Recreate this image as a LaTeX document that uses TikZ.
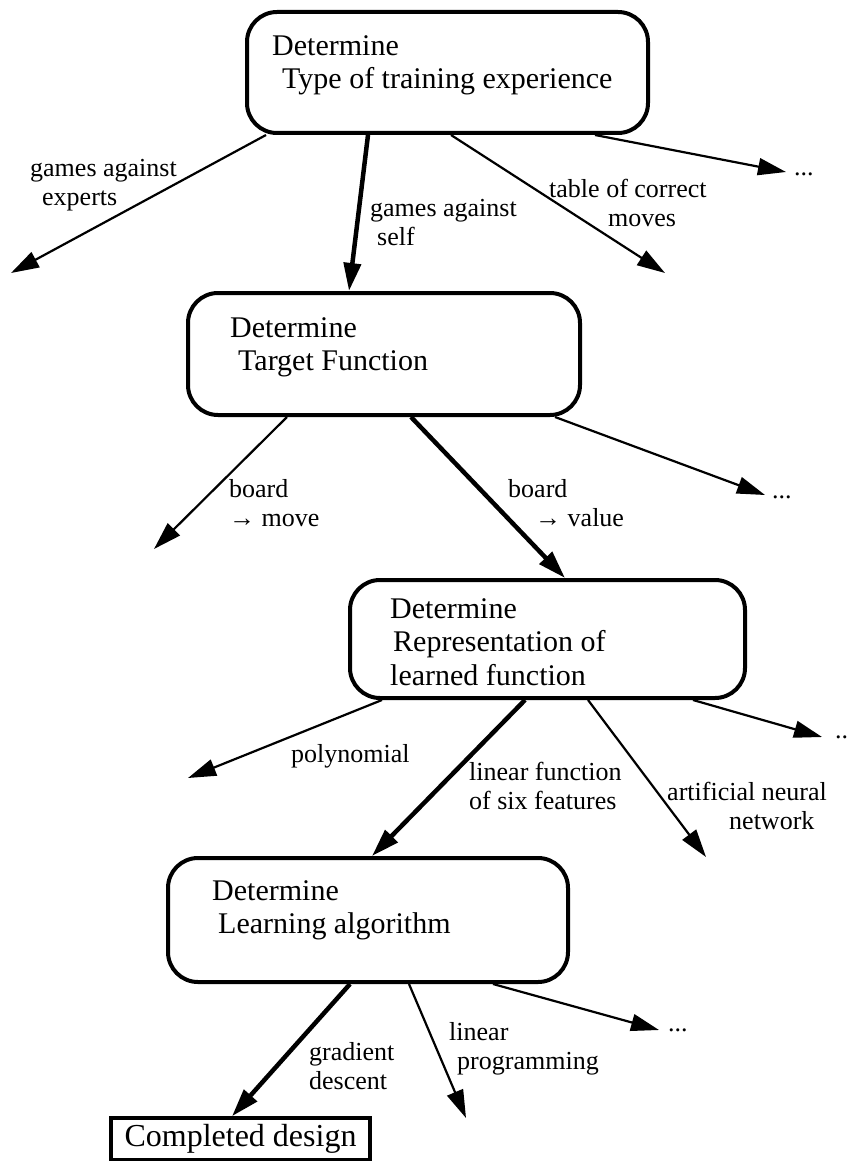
\documentclass[tikz,border=0pt]{standalone}
\usepackage{fontspec}
\setmainfont{Liberation Serif}
\usetikzlibrary{arrows.meta}

\begin{document}
\begin{tikzpicture}[x=1pt, y=-1pt]
    \tikzstyle{decision} = [rectangle, rounded corners=30pt, draw, line width=4pt]
    \tikzstyle{heading} = [anchor=north west, inner sep=0pt, align=left, font=\fontsize{30}{33.5}\selectfont]
    \tikzstyle{choice} = [anchor=north west, inner sep=0pt, align=left, font=\fontsize{26}{29}\selectfont]
    \tikzstyle{ellipsis} = [anchor=west, inner sep=0pt, font=\fontsize{26}{29}\selectfont]
    \tikzstyle{option} = [-{Triangle[length=28pt, width=17pt]}, line width=2.2pt]
    \tikzstyle{chosen} = [option, line width=4.5pt]

    \useasboundingbox (0,0) rectangle (848,1161);

    % Decision boxes
    \node [decision, minimum width=401pt, minimum height=121pt] (experience) at (447.5,72.5) {};
    \node [decision, minimum width=392pt, minimum height=122pt] (target) at (384,354) {};
    \node [decision, minimum width=395pt, minimum height=118pt] (representation) at (547.5,639) {};
    \node [decision, minimum width=400pt, minimum height=124pt] (algorithm) at (368,920) {};
    \node [rectangle, draw, line width=3.5pt, minimum width=259pt, minimum height=42pt, font=\fontsize{32}{34}\selectfont] (design) at (240.5,1139) {Completed design};

    % Box texts
    \node [heading] (experience_text) at (272,35) {Determine\\\hspace*{10pt}Type of training experience};
    \node [heading] (target_text) at (230,317) {Determine\\\hspace*{8pt}Target Function};
    \node [heading] (representation_text) at (390,598) {Determine\\\hspace*{3pt}Representation of\\learned function};
    \node [heading] (algorithm_text) at (212,880) {Determine\\\hspace*{6pt}Learning algorithm};

    % Free ends
    \coordinate (experts_end) at (11,273);
    \coordinate (table_end) at (665,273);
    \coordinate (more1_end) at (786,172);
    \coordinate (move_end) at (154,549);
    \coordinate (more2_end) at (765,495);
    \coordinate (poly_end) at (188,778);
    \coordinate (ann_end) at (706,857);
    \coordinate (more3_end) at (822,737);
    \coordinate (lp_end) at (466,1118);
    \coordinate (more4_end) at (659,1030);

    % Arrows
    \draw [option] ([xshift=-181.5pt]experience.south) -- (experts_end);
    \draw [chosen] ([xshift=-79.5pt]experience.south) -- ([xshift=-35pt]target.north);
    \draw [option] ([xshift=3.5pt]experience.south) -- (table_end);
    \draw [option] ([xshift=147.5pt]experience.south) -- (more1_end);
    \draw [option] ([xshift=-97pt]target.south) -- (move_end);
    \draw [chosen] ([xshift=27pt]target.south) -- ([xshift=17.5pt]representation.north);
    \draw [option] ([xshift=171pt]target.south) -- (more2_end);
    \draw [option] ([xshift=-165.5pt]representation.south) -- (poly_end);
    \draw [chosen] ([xshift=-22.5pt]representation.south) -- ([xshift=4pt]algorithm.north);
    \draw [option] ([xshift=40.5pt]representation.south) -- (ann_end);
    \draw [option] ([xshift=145.5pt]representation.south) -- (more3_end);
    \draw [chosen] ([xshift=-18pt]algorithm.south) -- ([xshift=-8.5pt]design.north);
    \draw [option] ([xshift=41pt]algorithm.south) -- (lp_end);
    \draw [option] ([xshift=125pt]algorithm.south) -- (more4_end);

    % Arrow labels
    \node [choice] (experts_label) at (30,159) {games against\\\hspace*{12pt}experts};
    \node [choice] (self_label) at (370,199) {games against\\\hspace*{7pt}self};
    \node [choice] (table_label) at (549,179) {table of correct\\\hspace*{59pt}moves};
    \node [ellipsis] (more1_label) at (794,174) {...};
    \node [choice] (move_label) at (229,479) {board\\→ move};
    \node [choice] (value_label) at (508,479) {board\\\hspace*{27pt}→ value};
    \node [ellipsis] (more2_label) at (772,497) {...};
    \node [choice] (poly_label) at (291,744) {polynomial};
    \node [choice] (linear_label) at (469,762) {linear function\\of six features};
    \node [choice] (ann_label) at (667,782) {artificial neural\\\hspace*{62pt}network};
    \node [ellipsis] (more3_label) at (835,737) {..};
    \node [choice] (gradient_label) at (309,1042) {gradient\\descent};
    \node [choice] (lp_label) at (449,1022) {linear\\\hspace*{8pt}programming};
    \node [ellipsis] (more4_label) at (668,1030) {...};
\end{tikzpicture}
\end{document}
